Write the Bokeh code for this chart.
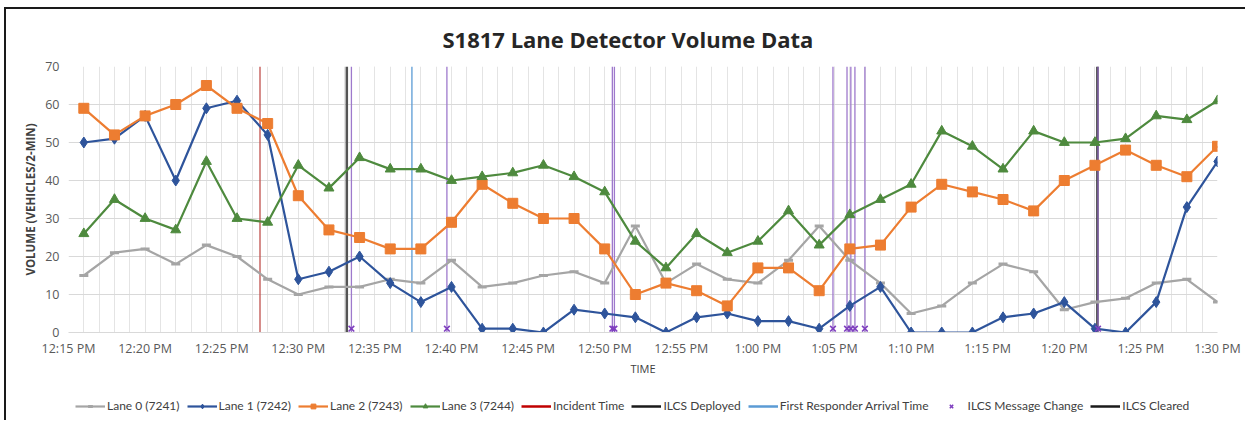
from bokeh.plotting import figure
from bokeh.layouts import column
from bokeh.models import FixedTicker, Legend, LegendItem, ColumnDataSource
from bokeh.embed import file_html
from bokeh.resources import INLINE

# ---- data -------------------------------------------------------------
times = ["12:16", "12:18", "12:20", "12:22", "12:24", "12:26", "12:28", "12:30",
         "12:32", "12:34", "12:36", "12:38", "12:40", "12:42", "12:44", "12:46",
         "12:48", "12:50", "12:52", "12:54", "12:56", "12:58", "13:00", "13:02",
         "13:04", "13:06", "13:08", "13:10", "13:12", "13:14", "13:16", "13:18",
         "13:20", "13:22", "13:24", "13:26", "13:28", "13:30"]

lane0 = [15, 21, 22, 18, 23, 20, 14, 10, 12, 12, 14, 13, 19, 12, 13, 15, 16, 13, 28, 13,
         18, 14, 13, 19, 28, 19, 13, 5, 7, 13, 18, 16, 6, 8, 9, 13, 14, 8]
lane1 = [50, 51, 57, 40, 59, 61, 52, 14, 16, 20, 13, 8, 12, 1, 1, 0, 6, 5, 4, 0,
         4, 5, 3, 3, 1, 7, 12, 0, 0, 0, 4, 5, 8, 1, 0, 8, 33, 45]
lane2 = [59, 52, 57, 60, 65, 59, 55, 36, 27, 25, 22, 22, 29, 39, 34, 30, 30, 22, 10, 13,
         11, 7, 17, 17, 11, 22, 23, 33, 39, 37, 35, 32, 40, 44, 48, 44, 41, 49]
lane3 = [26, 35, 30, 27, 45, 30, 29, 44, 38, 46, 43, 43, 40, 41, 42, 44, 41, 37, 24, 17,
         26, 21, 24, 32, 23, 31, 35, 39, 53, 49, 43, 53, 50, 50, 51, 57, 56, 61]

tick_times = ["12:15", "12:20", "12:25", "12:30", "12:35", "12:40", "12:45", "12:50",
              "12:55", "13:00", "13:05", "13:10", "13:15", "13:20", "13:25", "13:30"]
tick_labels = ["12:15 PM", "12:20 PM", "12:25 PM", "12:30 PM", "12:35 PM", "12:40 PM",
               "12:45 PM", "12:50 PM", "12:55 PM", "1:00 PM", "1:05 PM", "1:10 PM",
               "1:15 PM", "1:20 PM", "1:25 PM", "1:30 PM"]

incident_time = ["12:27:30"]
ilcs_deployed = ["12:33:10"]
first_responder = ["12:37:25"]
message_changes = ["12:33:28", "12:39:42", "12:50:30", "12:50:38", "13:04:54",
                   "13:05:49", "13:06:04", "13:06:20", "13:06:59", "13:22:12"]
ilcs_cleared = ["13:22:10"]

legend_labels = ["Lane 0 (7241)", "Lane 1 (7242)", "Lane 2 (7243)", "Lane 3 (7244)",
                 "Incident Time", "ILCS Deployed", "First Responder Arrival Time",
                 "ILCS Message Change", "ILCS Cleared"]


def to_min(s):
    parts = [int(v) for v in s.split(":")]
    sec = parts[2] if len(parts) > 2 else 0
    return (parts[0] - 12) * 60 + parts[1] + sec / 60.0


x = [to_min(t) for t in times]
FONT = "Open Sans"
C_L0, C_L1, C_L2, C_L3 = "#A5A5A5", "#2E549B", "#ED7D31", "#4E8A3E"
C_INC, C_DEP, C_FR, C_CLR, C_MSG, C_MSGX = ("#C0504D", "#555555", "#5B9BD5",
                                           "#262626", "#9E79CC", "#7F3FBF")

p = figure(frame_width=1147, frame_height=264, output_backend="svg",
           toolbar_location=None,
           x_range=(15, 90), y_range=(0, 70),
           min_border_left=62, min_border_right=30, min_border_top=57,
           min_border_bottom=0)
p.styles = {"border-top": "2px solid #1a1a1a", "border-left": "2px solid #1a1a1a",
            "margin-top": "7px", "margin-left": "4px"}
p.outline_line_color = None

p.title.text = "S1817 Lane Detector Volume Data"
p.title.text_font = FONT
p.title.text_font_size = "22px"
p.title.text_font_style = "bold"
p.title.text_color = "#262626"
p.title.align = "left"
p.title.offset = 374
p.title.vertical_align = "bottom"
p.title.standoff = 25

# axes
major = [to_min(t) for t in tick_times]
minor = list(range(15, 91))
p.xaxis.ticker = FixedTicker(ticks=major, minor_ticks=minor)
p.xaxis.major_label_overrides = {m: lab for m, lab in zip(major, tick_labels)}
p.yaxis.ticker = FixedTicker(ticks=list(range(0, 71, 10)))
for ax in (p.xaxis[0], p.yaxis[0]):
    ax.major_tick_line_color = None
    ax.minor_tick_line_color = None
    ax.major_tick_out = 0
    ax.minor_tick_out = 0
    ax.major_tick_in = 0
    ax.minor_tick_in = 0
    ax.major_label_text_font = FONT
    ax.major_label_text_font_size = "12.5px"
    ax.major_label_text_color = "#595959"
    ax.axis_label_text_font = FONT
    ax.axis_label_text_font_style = "normal"
    ax.axis_label_text_color = "#404040"
    ax.major_label_standoff = 9
p.xaxis.major_label_standoff = 7
p.xaxis.axis_line_color = "#D9D9D9"
p.yaxis.axis_line_color = None
p.xaxis.axis_label = "TIME"
p.xaxis.axis_label_text_font_size = "11px"
p.xaxis.axis_label_standoff = 1
p.yaxis.axis_label = "VOLUME (VEHICLES/2-MIN)"
p.yaxis.axis_label_text_font_size = "11.5px"
p.yaxis.axis_label_text_font_style = "bold"
p.yaxis.axis_label_standoff = 4

p.ygrid.grid_line_color = "#D9D9D9"
p.xgrid.grid_line_color = "#E4E4E4"
p.xgrid.minor_grid_line_color = "#E4E4E4"

# event lines
def vlines(ts, color, width):
    xs = [to_min(t) for t in ts]
    src = ColumnDataSource(dict(x=xs, y0=[0] * len(xs), y1=[70] * len(xs)))
    return p.segment(x0="x", y0="y0", x1="x", y1="y1", source=src,
                     line_color=color, line_width=width)

vlines(incident_time, C_INC, 1.3)
vlines(ilcs_deployed, C_DEP, 2.5)
vlines(first_responder, C_FR, 1.3)
vlines(ilcs_cleared, C_CLR, 2.5)
vlines(message_changes, C_MSG, 1.3)

# series
def series(fig, xs, vals, color, marker, size, lw=2.2):
    src = ColumnDataSource(dict(x=xs, y=vals))
    rl = fig.line("x", "y", source=src, line_color=color, line_width=lw)
    if marker == "dash":
        rm = fig.scatter("x", "y", source=src, marker="dash", size=size,
                         line_color=color, line_width=3)
    else:
        rm = fig.scatter("x", "y", source=src, marker=marker, size=size,
                         fill_color=color, line_color=color, line_width=1)
    return [rl, rm]

series(p, x, lane0, C_L0, "dash", 9)
series(p, x, lane1, C_L1, "diamond", 11)
series(p, x, lane2, C_L2, "square", 10)
series(p, x, lane3, C_L3, "triangle", 10)

msg_x = [to_min(t) for t in message_changes]
p.scatter(msg_x, [1] * len(msg_x), marker="x", size=8,
          line_color=C_MSGX, line_width=1.6)

# ---- legend strip (separate figure; its glyphs sit outside its range) ----
lg = figure(width=1239, height=44, output_backend="svg", toolbar_location=None,
            x_axis_location=None, y_axis_location=None,
            x_range=(0, 1), y_range=(0, 1),
            min_border_left=0, min_border_right=0, min_border_top=0,
            min_border_bottom=0)
lg.styles = {"border-left": "2px solid #1a1a1a", "margin-left": "4px"}
lg.outline_line_color = None
lg.grid.visible = False

hx, hy = [-5, -4], [-5, -4]   # hidden positions, off the legend strip's range
g0 = series(lg, hx, hy, C_L0, "dash", 9)
g1 = series(lg, hx, hy, C_L1, "diamond", 9)
g2 = series(lg, hx, hy, C_L2, "square", 8)
g3 = series(lg, hx, hy, C_L3, "triangle", 8)

def seg(color, width):
    return lg.segment(x0=[-5], y0=[-5], x1=[-4], y1=[-4],
                      line_color=color, line_width=width)

g_inc = seg("#C00000", 2.5)
g_dep = seg("#1a1a1a", 2.5)
g_fr = seg("#5B9BD5", 2.5)
g_msg = lg.scatter([-5], [-5], marker="x", size=8, line_color=C_MSGX, line_width=1.6)
g_clr = seg("#1a1a1a", 2.5)

groups = [g0, g1, g2, g3, [g_inc], [g_dep], [g_fr], [g_msg], [g_clr]]
legend = Legend(items=[LegendItem(label=lab, renderers=r)
                       for lab, r in zip(legend_labels, groups)],
                orientation="horizontal", location=(7, 7))
legend.label_text_font = "Lato"
legend.label_text_font_size = "12px"
legend.label_text_color = "#404040"
legend.glyph_width = 30
legend.glyph_height = 12
legend.label_height = 12
legend.label_standoff = 2
legend.spacing = 7
legend.padding = 2
legend.margin = 0
legend.border_line_color = None
legend.background_fill_alpha = 0
lg.add_layout(legend, "center")

open("out.html", "w").write(file_html(column(p, lg), INLINE))
